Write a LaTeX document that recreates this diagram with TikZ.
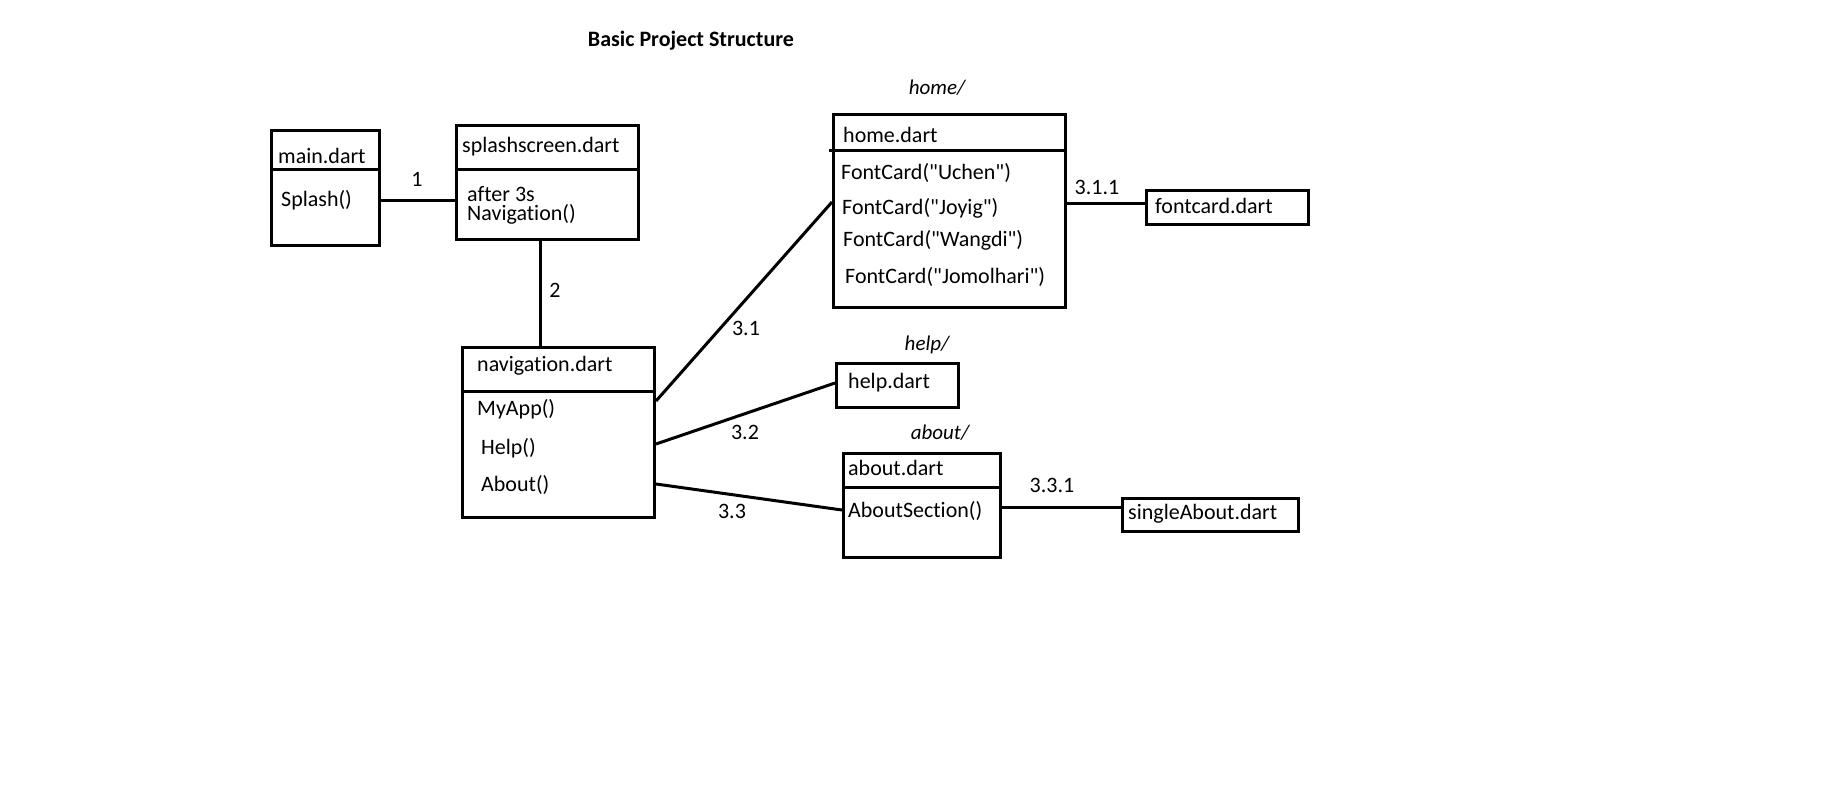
\documentclass[tikz,border=0pt]{standalone}
\usepackage{fontspec}
\setmainfont{Carlito}[Ligatures={NoCommon,TeXOff}]
\usetikzlibrary{positioning}

\begin{document}
\begin{tikzpicture}[x=1pt, y=-1pt,
        filebox/.style={rectangle,draw,line width=3pt,anchor=north west,inner sep=0pt},
        txt/.style={anchor=west,inner sep=0pt,yshift=-1pt,font=\fontsize{22}{26}\selectfont},
        lbl/.style={inner sep=0pt,font=\fontsize{22}{26}\selectfont},
        folder/.style={inner sep=0pt,font=\fontsize{21}{25}\selectfont\itshape},
        wire/.style={line width=3pt}]
        \fill[white] (0,0) rectangle (1828,787);
        \useasboundingbox (0,0) rectangle (1828,787);
        \node[inner sep=0pt,font=\fontsize{22}{26}\selectfont\bfseries] (title) at (691,41) {Basic Project Structure};
        % boxes
        \node[filebox,minimum width=108pt,minimum height=115pt] (main) at (270,129) {};
        \node[filebox,minimum width=182pt,minimum height=114pt] (splash) at (455,124) {};
        \node[filebox,minimum width=192pt,minimum height=170pt] (nav) at (461,346) {};
        \node[filebox,minimum width=232pt,minimum height=193pt] (home) at (832,113) {};
        \node[filebox,minimum width=162pt,minimum height=34pt] (fontcard) at (1145,189) {};
        \node[filebox,minimum width=122pt,minimum height=44pt] (help) at (835,362) {};
        \node[filebox,minimum width=157pt,minimum height=104pt] (about) at (842,452) {};
        \node[filebox,minimum width=176pt,minimum height=33pt] (single) at (1121,497) {};
        % dividers
        \draw[wire] (main.west |- 0,169) -- (main.east |- 0,169);
        \draw[wire] (splash.west |- 0,169) -- (splash.east |- 0,169);
        \draw[wire] (nav.west |- 0,391) -- (nav.east |- 0,391);
        \draw[wire] (829,150) -- (home.east |- 0,150);
        \draw[wire] (about.west |- 0,487) -- (about.east |- 0,487);
        % texts
        \node[txt] (mainname) at (278,155) {main.dart};
        \node[txt] (mainbody) at (281,199) {Splash()};
        \node[txt] (splashname) at (462,146) {splashscreen.dart};
        \node[txt] (splashwait) at (467,193) {after 3s};
        \node[txt] (splashnav) at (467,213) {Navigation()};
        \node[txt] (navname) at (477,365) {navigation.dart};
        \node[txt] (navapp) at (477,408) {MyApp()};
        \node[txt] (navhelp) at (481,447) {Help()};
        \node[txt] (navabout) at (481,484) {About()};
        \node[txt] (homename) at (843,134) {home.dart};
        \node[txt] (cardone) at (841,172) {FontCard("Uchen")};
        \node[txt] (cardtwo) at (842,207) {FontCard("Joyig")};
        \node[txt] (cardthree) at (843,239) {FontCard("Wangdi")};
        \node[txt] (cardfour) at (845,276) {FontCard("Jomolhari")};
        \node[txt] (fontcardname) at (1155,205) {fontcard.dart};
        \node[txt] (helpname) at (848,382) {help.dart};
        \node[txt] (aboutname) at (848,467) {about.dart};
        \node[txt] (aboutbody) at (848,510) {AboutSection()};
        \node[txt] (singlename) at (1128,513) {singleAbout.dart};
        % folders
        \node[folder] (homedir) at (937,88) {home/};
        \node[folder] (helpdir) at (927,345) {help/};
        \node[folder] (aboutdir) at (940,433) {about/};
        % connectors
        \draw[wire] (main.east |- 0,200) -- (splash.west |- 0,200);
        \draw[wire] (splash.south -| 540,0) -- (nav.north -| 540,0);
        \draw[wire] (nav.east |- 0,401) -- (home.west |- 0,202);
        \draw[wire] (nav.east |- 0,444) -- (help.west |- 0,383);
        \draw[wire] (nav.east |- 0,484) -- (about.west |- 0,510);
        \draw[wire] (home.east |- 0,203) -- (fontcard.west |- 0,203);
        \draw[wire] (about.east |- 0,507) -- (single.west |- 0,507);
        \node[lbl] (one) at (417,179) {1};
        \node[lbl] (two) at (555,290) {2};
        \node[lbl] (threeone) at (746,328) {3.1};
        \node[lbl] (threetwo) at (745,432) {3.2};
        \node[lbl] (threethree) at (732,511) {3.3};
        \node[lbl] (threeoneone) at (1097,187) {3.1.1};
        \node[lbl] (threethreeone) at (1052,485) {3.3.1};
\end{tikzpicture}
\end{document}
